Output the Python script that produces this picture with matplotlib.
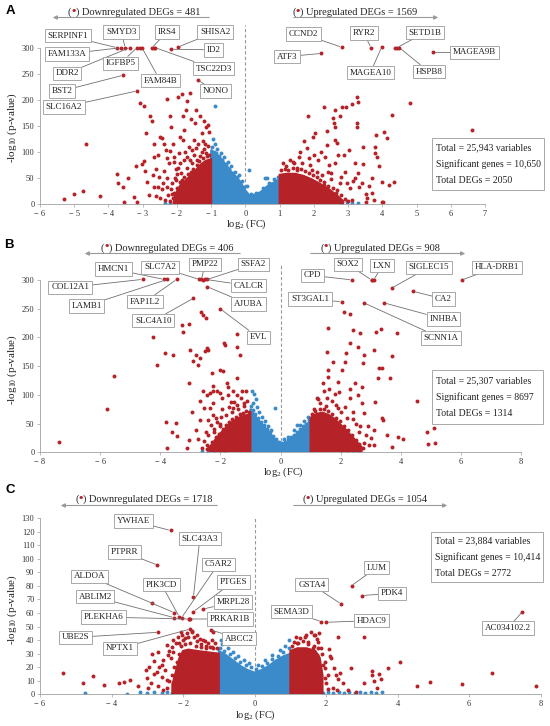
import matplotlib
matplotlib.use("Agg")
import matplotlib.pyplot as plt
from matplotlib.offsetbox import TextArea, HPacker, AnnotationBbox
from matplotlib.patches import FancyArrowPatch, Rectangle

plt.rcParams['font.family'] = ['Liberation Serif', 'DejaVu Serif']
plt.rcParams['mathtext.fontset'] = 'custom'
plt.rcParams['mathtext.rm'] = 'Liberation Serif'
plt.rcParams['mathtext.it'] = 'Liberation Serif:italic'

# ---------------- DATA ----------------
panel_letters = ["A", "B", "C"]
down_counts = [481, 406, 1718]
up_counts = [1569, 908, 1054]
total_vars = ["25,943", "25,307", "23,884"]
sig_genes = ["10,650", "8697", "10,414"]
total_degs = ["2050", "1314", "2772"]

A_xticks = [-6, -5, -4, -3, -2, -1, 0, 1, 2, 3, 4, 5, 6, 7]
A_yticks = [0, 50, 100, 150, 200, 250, 300]
B_xticks = [-8, -6, -4, -2, 0, 2, 4, 6, 8]
B_yticks = [0, 50, 100, 150, 200, 250, 300]
C_xticks = [-6, -4, -2, 0, 2, 4, 6, 8]
C_yticks = [0, 10, 20, 30, 40, 50, 60, 70, 80, 90, 100, 110, 120, 130]

# dense cores (envelopes of the packed point clouds)
A_blue_core_x = [-1.0, -1.0, -0.9, -0.8, -0.7, -0.6, -0.5, -0.4, -0.3, -0.2, -0.1, 0.0, 0.1, 0.2, 0.3, 0.4, 0.5, 0.6, 0.7, 0.8, 0.9, 1.0, 1.0]
A_blue_core_y = [0, 104, 98, 93, 86, 78, 70, 61, 54, 47, 37, 26, 18, 14, 15, 20, 26, 32, 36, 40, 44, 47, 0]
A_red_left_core_x = [-1.0, -1.0, -1.15, -1.3, -1.45, -1.6, -1.75, -1.9, -2.05, -2.1]
A_red_left_core_y = [0, 86, 83, 76, 65, 55, 45, 36, 18, 0]
A_red_right_core_x = [1.0, 1.0, 1.2, 1.45, 1.7, 1.95, 2.2, 2.45, 2.7, 2.85, 2.85]
A_red_right_core_y = [0, 56, 58, 58, 54, 47, 38, 28, 15, 6, 0]

B_blue_core_x = [-1.0, -1.0, -0.9, -0.8, -0.7, -0.6, -0.5, -0.4, -0.3, -0.2, -0.1, 0.0, 0.1, 0.2, 0.3, 0.4, 0.5, 0.6, 0.7, 0.8, 0.9, 1.0, 1.0]
B_blue_core_y = [0, 76, 68, 60, 54, 48, 42, 36, 30, 24, 19, 15, 14, 16, 20, 25, 30, 35, 40, 45, 50, 54, 0]
B_red_left_core_x = [-1.0, -1.0, -1.2, -1.4, -1.6, -1.8, -2.0, -2.2, -2.35, -2.35]
B_red_left_core_y = [0, 66, 64, 60, 53, 44, 33, 20, 9, 0]
B_red_right_core_x = [1.0, 1.0, 1.2, 1.4, 1.6, 1.8, 2.0, 2.2, 2.45, 2.7, 2.7]
B_red_right_core_y = [0, 60, 67, 69, 65, 58, 48, 38, 23, 9, 0]

C_blue_core_x = [-1.0, -1.0, -0.8, -0.6, -0.4, -0.2, 0.0, 0.2, 0.4, 0.6, 0.8, 1.0, 1.0]
C_blue_core_y = [0, 32, 29, 25, 21, 18, 16, 18, 21, 25, 28, 30, 0]
C_red_left_core_x = [-1.0, -1.0, -1.3, -1.6, -1.85, -2.0, -2.1, -2.2, -2.3, -2.3]
C_red_left_core_y = [0, 30, 31, 32, 33, 32, 27, 17, 7, 0]
C_red_right_core_x = [1.0, 1.0, 1.2, 1.45, 1.7, 1.82, 1.9, 1.9]
C_red_right_core_y = [0, 32, 34, 34, 32, 27, 14, 0]

# scattered points (x = log2 FC, y = -log10 p)
A_blue_pts = [(-0.88, 189), (-0.95, 125), (-0.9, 115), (-0.82, 105), (-0.72, 97), (-0.62, 90), (-0.52, 80),
              (-0.42, 72), (-0.3, 62), (-0.2, 55), (-0.1, 45), (0.05, 35), (0.12, 65), (0.58, 49), (0.62, 49),
              (0.3, 22), (0.5, 30), (0.7, 40), (0.85, 48), (0.95, 52), (-2.35, 2), (-2.2, 1), (-2.05, 3),
              (2.97, 3), (3.1, 1.5), (2.8, 1), (3.3, 1),
              (-0.98, 110), (-0.93, 100), (-0.85, 98), (-0.77, 92), (-0.67, 84), (-0.57, 76), (-0.47, 68),
              (-0.37, 60), (-0.25, 52), (-0.15, 42), (-0.05, 32), (0.15, 20), (0.25, 17), (0.4, 22), (0.55, 28),
              (0.65, 35), (0.75, 38), (0.88, 45), (0.98, 50)]
A_red_pts = [(-5.31, 9.6), (-5.0, 20), (-4.75, 24), (-4.67, 115), (-4.26, 16), (-3.76, 58), (-3.72, 41), (-3.58, 32),
             (-3.55, 3), (-3.43, 49), (-3.26, 13), (-3.21, 72), (-3.16, 3), (-3.07, 193), (-2.95, 188), (-3.02, 77),
             (-2.97, 83), (-2.92, 64), (-2.90, 137), (-2.87, 43), (-2.78, 168), (-2.73, 160), (-2.68, 115),
             (-2.66, 91), (-2.60, 68), (-2.56, 32), (-2.50, 129), (-2.44, 126), (-2.38, 115), (-2.33, 104),
             (-2.29, 201), (-2.21, 169), (-2.17, 148), (-2.11, 115), (-2.09, 91), (-2.04, 68), (-1.98, 206),
             (-1.90, 129), (-1.85, 212), (-1.83, 168), (-1.78, 142), (-1.73, 180), (-1.70, 198), (-1.62, 214),
             (-1.60, 164), (-1.48, 155), (-1.43, 180), (-1.38, 116), (-1.33, 169), (-1.28, 136), (-1.21, 160),
             (-1.14, 148), (-1.09, 152), (-1.06, 139), (-1.18, 116), (-1.83, 123), (-2.19, 102), (-2.23, 78),
             (-2.38, 64), (-2.53, 51), (-2.68, 33), (-2.82, 17), (-2.29, 33), (-2.14, 20), (-1.99, 8), (-2.48, 11),
             (-1.90, 33), (-2.04, 46), (-1.90, 78), (-1.70, 91), (-1.56, 104), (-1.43, 107), (-1.28, 100),
             (-1.65, 110), (-1.2, 105), (-1.1, 112), (-1.5, 95), (-1.75, 100), (-2.0, 58), (-2.15, 40), (-2.3, 50),
             (-2.45, 28), (-2.6, 15), (-1.95, 25), (-2.7, 55), (-3.09, 300), (-2.68, 300),
             (-1.05, 95), (-1.12, 92), (-1.25, 88), (-1.35, 82), (-1.42, 75), (-1.52, 68), (-1.6, 62), (-1.68, 58),
             (-1.78, 52), (-1.85, 47), (-1.92, 42), (-2.0, 30), (-2.08, 22), (-2.12, 12), (-2.2, 6), (-1.15, 98),
             (-1.32, 92), (-1.55, 78), (-1.72, 70), (-1.88, 60), (-2.05, 50), (-2.18, 28), (-2.25, 18), (-2.35, 8),
             (-1.4, 85), (-1.62, 85), (-1.8, 85), (-1.98, 70), (-2.1, 80), (-1.25, 120), (-1.5, 122), (-1.95, 98),
             (-2.3, 88), (-2.55, 95), (-2.4, 40),
             (1.83, 168), (2.29, 187), (2.61, 180), (2.83, 186), (2.95, 186), (3.12, 191), (3.25, 205), (3.29, 196),
             (2.76, 168), (2.55, 166), (2.58, 155), (2.63, 147), (2.37, 140), (2.03, 136), (1.97, 128), (2.37, 113),
             (2.63, 123), (2.68, 118), (3.27, 156), (3.26, 148), (3.43, 110), (3.82, 132), (4.05, 139), (4.14, 126),
             (4.29, 170), (4.82, 193), (6.61, 142), (1.80, 107), (1.56, 91), (1.41, 78), (1.61, 100), (2.12, 84),
             (2.34, 91), (2.61, 78), (2.88, 94), (3.02, 104), (3.21, 78), (3.43, 77), (3.80, 97), (3.78, 110),
             (3.85, 91), (3.71, 49), (3.90, 72), (4.0, 43), (4.19, 36), (4.34, 43), (3.21, 49), (2.97, 41),
             (3.31, 33), (3.51, 20), (3.75, 8), (3.98, 4), (4.02, 4), (3.12, 8), (2.83, 4), (3.51, 4), (2.68, 27),
             (2.49, 59), (2.29, 36), (2.78, 52), (1.3, 85), (1.5, 70), (1.9, 75), (2.1, 62), (2.2, 100), (2.45, 75),
             (1.7, 120), (2.0, 95), (2.9, 62), (3.05, 30), (3.3, 60), (2.7, 95), (3.6, 35), (1.2, 72), (4.38, 300),
             (1.05, 65), (1.15, 68), (1.25, 66), (1.38, 70), (1.5, 66), (1.62, 68), (1.75, 63), (1.85, 60),
             (1.98, 55), (2.08, 52), (2.18, 46), (2.3, 42), (2.42, 35), (2.55, 30), (2.65, 22), (2.78, 18),
             (2.9, 10), (3.0, 5), (1.1, 78), (1.4, 80), (1.65, 78), (1.95, 66), (2.25, 55), (2.5, 48), (2.75, 40),
             (1.85, 88), (2.4, 62), (3.15, 45), (3.4, 40), (3.55, 12), (3.7, 22)]

B_blue_pts = [(-0.95, 106), (-0.88, 101), (-0.82, 92), (-0.9, 85), (-0.78, 78), (-0.7, 70), (-0.6, 62), (-0.5, 55),
              (-0.4, 46), (-0.3, 38), (-0.18, 77), (0.54, 47), (0.45, 38), (0.65, 48), (0.78, 55), (0.9, 62),
              (0.1, 24), (0.25, 26), (-2.6, 2), (-2.4, 1), (-2.2, 3), (-2.0, 1.5), (-1.85, 2), (2.0, 2), (2.2, 1),
              (2.4, 2), (2.6, 1),
              (-0.98, 80), (-0.93, 74), (-0.85, 67), (-0.75, 60), (-0.65, 53), (-0.55, 47), (-0.45, 41),
              (-0.35, 35), (-0.25, 29), (-0.15, 23), (-0.05, 18), (0.05, 17), (0.15, 18), (0.25, 22), (0.35, 26),
              (0.45, 30), (0.55, 35), (0.65, 40), (0.75, 45), (0.85, 50), (0.95, 57)]
B_red_pts = [(-7.36, 18.6), (-5.78, 75), (-5.54, 132), (-4.25, 201), (-4.12, 152), (-3.84, 172), (-3.81, 52),
             (-3.77, 7), (-3.62, 35), (-3.59, 170), (-3.48, 51), (-3.45, 28), (-3.26, 222), (-3.24, 209), (-3.12, 7),
             (-3.03, 223), (-3.01, 178), (-3.03, 120), (-3.03, 21), (-2.96, 70), (-2.90, 159), (-2.81, 170),
             (-2.73, 152), (-2.68, 165), (-2.68, 89), (-2.66, 244), (-2.57, 239), (-2.51, 177), (-2.48, 233),
             (-2.46, 181), (-2.40, 178), (-2.73, 24), (-2.81, 39), (-2.68, 56), (-2.40, 56), (-2.29, 138),
             (-2.26, 116), (-2.23, 85), (-2.21, 36), (-2.01, 143), (-1.90, 141), (-1.88, 190), (-1.85, 187),
             (-1.79, 120), (-1.75, 100), (-1.73, 114), (-1.57, 77), (-1.46, 129), (-1.44, 206), (-1.44, 184),
             (-1.35, 170), (-2.10, 106), (-2.01, 103), (-1.96, 94), (-2.23, 106), (-2.34, 103), (-2.43, 100),
             (-2.57, 106), (-2.54, 77), (-2.34, 77), (-2.23, 65), (-2.48, 36), (-2.46, 13), (-2.29, 13), (-2.07, 19),
             (-2.01, 45), (-2.12, 53), (-1.99, 62), (-1.46, 100), (-1.66, 88), (-1.57, 106), (-1.29, 106),
             (-1.15, 106), (-1.2, 80), (-1.4, 75), (-1.6, 70), (-1.8, 65), (-2.0, 50), (-1.1, 90), (-1.3, 95),
             (-1.55, 88), (-2.2, 40), (-2.4, 30), (-2.57, 300),
             (-1.05, 70), (-1.15, 72), (-1.25, 68), (-1.35, 66), (-1.48, 62), (-1.6, 58), (-1.7, 52), (-1.82, 48),
             (-1.92, 40), (-2.05, 32), (-2.15, 26), (-2.28, 18), (-2.38, 10), (-2.45, 5), (-1.2, 85), (-1.45, 82),
             (-1.7, 78), (-1.95, 75), (-2.15, 60), (-2.3, 48), (-2.55, 20), (-2.6, 8),
             (2.12, 245), (2.31, 241), (1.59, 216), (2.42, 213), (2.64, 207), (3.17, 209), (3.33, 215), (3.89, 208),
             (2.31, 190), (2.59, 184), (1.54, 174), (2.17, 172), (2.79, 170), (3.12, 178), (3.72, 167), (1.76, 157),
             (2.15, 158), (2.76, 155), (3.26, 146), (3.37, 146), (3.23, 129), (3.64, 129), (1.59, 143), (2.03, 143),
             (1.57, 131), (1.90, 123), (2.48, 120), (2.72, 114), (1.46, 106), (1.81, 101), (2.31, 94), (2.59, 100),
             (3.14, 88), (4.53, 89), (1.92, 77), (2.42, 71), (2.79, 68), (3.37, 59), (3.42, 56), (3.12, 39),
             (3.53, 30), (3.92, 27), (4.09, 24), (3.70, 10), (5.09, 42), (4.86, 36), (4.92, 14), (5.14, 17),
             (3.12, 13), (2.79, 16), (2.42, 24), (2.1, 18), (1.3, 85), (1.5, 80), (1.7, 90), (2.0, 70), (2.2, 60),
             (2.5, 50), (2.6, 35), (2.3, 110), (1.4, 120), (1.2, 95), (2.9, 45), (3.0, 25), (2.7, 85), (1.1, 75),
             (3.06, 300),
             (1.05, 66), (1.15, 72), (1.3, 76), (1.45, 75), (1.58, 72), (1.7, 66), (1.85, 60), (1.98, 54),
             (2.1, 46), (2.25, 38), (2.38, 30), (2.52, 22), (2.62, 14), (2.75, 8), (1.25, 92), (1.55, 95),
             (1.85, 82), (2.15, 78), (2.4, 58), (2.65, 45), (2.85, 30), (2.95, 12), (1.6, 110), (1.95, 105)]

C_blue_pts = [(-0.95, 40), (-0.9, 37), (-0.75, 34), (-0.6, 31), (-0.45, 28), (-0.3, 25), (-0.15, 23), (0.1, 22),
              (0.3, 25), (0.5, 29), (0.7, 33), (0.85, 36), (0.95, 40), (-4.75, 1), (-3.58, 0.5), (-3.2, 1.5),
              (-3.0, 1), (-2.8, 2), (-2.6, 1), (-2.45, 1.5), (-2.3, 1), (-2.15, 2), (-2.0, 1), (-1.9, 2), (1.9, 1),
              (2.05, 2), (2.2, 1), (2.35, 1.5), (2.5, 1), (2.65, 2), (2.8, 1), (2.95, 1.5), (3.1, 1), (3.25, 2),
              (3.4, 1), (3.55, 1.5),
              (-0.98, 34), (-0.85, 32), (-0.7, 30), (-0.55, 27), (-0.4, 24), (-0.25, 22), (-0.1, 20), (0.05, 19),
              (0.2, 21), (0.35, 23), (0.5, 26), (0.65, 28), (0.8, 31), (0.97, 34)]
C_red_pts = [(-5.35, 15.5), (-4.79, 8.6), (-4.53, 13.5), (-4.21, 6.9), (-3.78, 8.1), (-3.64, 9.3), (-3.48, 10.6),
             (-3.25, 6.1), (-2.97, 4.9), (-2.88, 29.8), (-2.86, 67.4), (-2.04, 43.8), (-1.95, 41.4), (-2.10, 37.6),
             (-2.27, 31.5), (-2.41, 29), (-2.55, 25.3), (-2.66, 20.4), (-2.74, 16.7), (-2.60, 13), (-2.46, 10.6),
             (-2.27, 8.1), (-2.09, 5.6), (-1.90, 4.4), (-2.69, 31.5), (-2.81, 24.6), (-2.94, 20.4), (-3.04, 18),
             (-2.46, 36.4), (-2.27, 40), (-1.76, 46), (-1.62, 44), (-1.53, 41), (-1.39, 39), (-1.29, 37.6),
             (-1.24, 35), (-1.15, 34), (-1.15, 46.3), (-2.2, 38), (-2.0, 40), (-1.9, 45), (-1.7, 42), (-1.6, 39),
             (-1.5, 37), (-1.35, 36), (-2.3, 35), (-2.4, 32), (-1.75, 47), (-2.05, 46), (-1.2, 40), (-2.6, 22),
             (-2.8, 15), (-3.0, 12), (-2.9, 8), (-2.7, 6), (-1.84, 55.6),
             (-1.05, 34), (-1.2, 35), (-1.35, 34), (-1.5, 35), (-1.65, 36), (-1.8, 38), (-1.95, 37), (-2.05, 36),
             (-2.12, 30), (-2.18, 24), (-2.25, 20), (-2.32, 14), (-2.38, 10), (-2.45, 5), (-1.1, 38), (-1.45, 40),
             (-1.85, 42), (-2.15, 42), (-2.35, 27), (-2.5, 18), (-2.55, 3),
             (2.34, 42.5), (3.06, 42.5), (1.41, 42), (1.67, 43.8), (1.74, 40.9), (2.08, 33.4), (2.15, 26.6),
             (2.23, 19.2), (2.27, 14.3), (2.34, 11.3), (2.48, 8.1), (2.69, 19.2), (2.84, 1.9), (3.07, 8.1),
             (3.27, 17.2), (3.29, 14.3), (3.35, 9.8), (3.49, 14.7), (3.53, 11.3), (3.41, 4.9), (3.74, 19.7),
             (4.07, 24.1), (4.53, 6.4), (4.90, 8.8), (5.79, 7.6), (6.65, 15.5), (7.86, 6.4), (1.11, 38.9),
             (1.97, 19.2), (2.04, 14.3), (1.18, 37.6), (1.50, 38.9), (1.64, 34), (1.36, 30.3), (1.69, 43.8),
             (1.74, 29), (1.87, 34), (1.97, 24), (1.78, 38.9), (1.27, 41.4), (1.59, 46.3), (2.6, 3), (2.2, 5), (2.0, 8),
             (1.05, 36), (1.2, 38), (1.35, 39), (1.5, 37), (1.65, 36), (1.78, 34), (1.88, 30), (1.92, 22),
             (1.98, 12), (2.05, 4), (1.15, 42), (1.45, 44), (1.8, 45), (2.1, 28), (2.3, 3), (2.4, 16)]

# labelled genes: name, log2FC, -log10 p
A_genes = ["SERPINF1", "FAM133A", "SMYD3", "DDR2", "IGFBP5", "FAM84B", "IRS4", "TSC22D3", "ID2", "SHISA2",
           "NONO", "BST2", "SLC16A2", "CCND2", "ATF3", "RYR2", "MAGEA10", "SETD1B", "HSPB8", "MAGEA9B"]
A_gene_fc = [-3.75, -3.64, -3.51, -3.38, -3.17, -3.02, -2.73, -2.63, -2.17, -1.98,
             -1.39, -3.58, -3.17, 2.81, 2.22, 3.67, 3.98, 4.43, 4.50, 5.48]
A_gene_p = [300, 300, 300, 300, 300, 300, 300, 300, 297, 301, 238, 247, 217, 301, 289, 300, 301, 300, 300, 291]

B_genes = ["COL12A1", "HMCN1", "LAMB1", "FAP1L2", "SLC7A2", "PMP22", "CALCR", "SSFA2", "AJUBA", "SLC4A10", "EVL",
           "CPD", "SOX2", "LXN", "SIGLEC15", "HLA-DRB1", "CA2", "ST3GAL1", "INHBA", "SCNN1A"]
B_gene_fc = [-4.59, -3.88, -3.76, -3.45, -2.70, -2.63, -2.50, -2.43, -2.43, -2.90, -2.01,
             2.37, 3.03, 3.10, 3.70, 6.03, 4.42, 2.03, 3.45, 2.78]
B_gene_p = [301, 301, 301, 301, 301, 301, 301, 301, 288, 268, 250, 300, 300, 300, 286, 300, 280, 262, 260, 260]

C_genes = ["YWHAE", "PTPRR", "SLC43A3", "C5AR2", "ALDOA", "PIK3CD", "PTGES", "ABLIM2", "MRPL28", "PLEKHA6",
           "PRKAR1B", "UBE2S", "NPTX1", "ABCC2", "LUM", "GSTA4", "PDK4", "SEMA3D", "HDAC9", "AC034102.2"]
C_gene_fc = [-2.35, -2.72, -1.71, -2.04, -2.25, -2.11, -1.71, -2.25, -1.43, -1.84,
             -1.80, -2.69, -1.80, -1.22, 2.71, 2.42, 3.01, 1.87, 2.01, 7.49]
C_gene_p = [121, 95.5, 72.1, 56.6, 60.3, 57.4, 61, 56.6, 63, 55.6, 55.6, 45.8, 48.2, 47.5, 80.2, 66.7, 72.9, 53.6,
            53.2, 61]

# ---------------- LAYOUT (label box centres in data units) ----------------
A_lab_pos = [(-5.19, 323), (-5.21, 288), (-3.63, 330), (-5.21, 251), (-3.65, 270), (-2.49, 237), (-2.29, 330),
             (-0.93, 260), (-0.93, 296), (-0.88, 330), (-0.88, 217), (-5.36, 217), (-5.31, 186), (1.70, 326),
             (1.22, 283), (3.46, 328), (3.65, 252), (5.24, 329), (5.36, 254), (6.70, 291)]
B_lab_pos = [(-7.0, 287), (-5.56, 319), (-6.45, 255), (-4.51, 262), (-4.01, 322), (-2.51, 327), (-1.07, 290),
             (-0.90, 327), (-1.07, 258), (-4.23, 229), (-0.74, 200), (1.06, 308), (2.24, 327), (3.39, 325),
             (4.94, 322), (7.19, 322), (5.42, 267), (0.98, 267), (5.42, 232), (5.33, 199)]
C_lab_pos = [(-3.39, 128), (-3.65, 105), (-1.53, 115), (-1.02, 96), (-4.62, 87), (-2.60, 81), (-0.60, 83),
             (-4.46, 72), (-0.60, 68), (-4.23, 57), (-0.69, 55.6), (-5.02, 42), (-3.76, 34), (-0.43, 41),
             (3.41, 93.5), (1.60, 81), (3.85, 74.6), (1.04, 61), (3.27, 54.4), (7.08, 49)]

RED = '#B52227'
BLUE = '#3B8BCB'
GREY = '#999999'
W, H = 550, 726

fig = plt.figure(figsize=(W / 100, H / 100), dpi=100)


def fx(px):
    return px / W


def fy(py):
    return 1 - py / H


def tick_lab(v):
    return ("\u2212 %d" % abs(v)) if v < 0 else "%d" % v


panels = [
    dict(box=(40, 485, 204, 25), xlim=(-6, 7), ylim=(0, 343.6), xt=A_xticks, yt=A_yticks,
         blue_core=(A_blue_core_x, A_blue_core_y),
         red_cores=[(A_red_left_core_x, A_red_left_core_y), (A_red_right_core_x, A_red_right_core_y)],
         blue=A_blue_pts, red=A_red_pts, genes=(A_genes, A_gene_fc, A_gene_p), labpos=A_lab_pos,
         letter=(10, 10.5), head_y=11.5, arr_y=17.5, down=(134, 212, 50), up=(355, 291, 441),
         stats=(432, 544, 138, 190), xlab=(246, 224), ylab=(12, 128)),
    dict(box=(40, 521, 452.3, 265), xlim=(-8, 8), ylim=(0, 326), xt=B_xticks, yt=B_yticks,
         blue_core=(B_blue_core_x, B_blue_core_y),
         red_cores=[(B_red_left_core_x, B_red_left_core_y), (B_red_right_core_x, B_red_right_core_y)],
         blue=B_blue_pts, red=B_red_pts, genes=(B_genes, B_gene_fc, B_gene_p), labpos=B_lab_pos,
         letter=(9, 245), head_y=247.5, arr_y=253.5, down=(167, 243, 82), up=(380, 308, 468),
         stats=(432, 543, 370, 424), xlab=(283, 472), ylab=(12, 370)),
    dict(box=(40, 540.7, 694.3, 517.7), xlim=(-6, 8), ylim=(0, 130.4), xt=C_xticks, yt=C_yticks,
         blue_core=(C_blue_core_x, C_blue_core_y),
         red_cores=[(C_red_left_core_x, C_red_left_core_y), (C_red_right_core_x, C_red_right_core_y)],
         blue=C_blue_pts, red=C_red_pts, genes=(C_genes, C_gene_fc, C_gene_p), labpos=C_lab_pos,
         letter=(10, 490), head_y=499, arr_y=505.5, down=(144, 220, 58), up=(365, 291, 450),
         stats=(431, 543, 532, 582), xlab=(255, 715), ylab=(12, 610)),
]


def header(cx, cy, text):
    tp = dict(fontsize=7.5, color='#222222', family='Liberation Serif')
    parts = [TextArea("(", textprops=tp),
             TextArea("\u2022", textprops=dict(fontsize=9, color=RED, family='Liberation Serif', weight='bold')),
             TextArea(") " + text, textprops=tp)]
    box = HPacker(children=parts, align="baseline", pad=0, sep=0)
    ab = AnnotationBbox(box, (fx(cx), fy(cy)), xycoords='figure fraction', frameon=False,
                        box_alignment=(0.5, 0.5), pad=0)
    fig.add_artist(ab)


def harrow(x0, x1, y):
    fig.add_artist(FancyArrowPatch((fx(x0), fy(y)), (fx(x1), fy(y)), transform=fig.transFigure,
                                   arrowstyle='-|>', mutation_scale=6, color=GREY, lw=0.8))


for i, p in enumerate(panels):
    l, r, b, t = p['box']
    ax = fig.add_axes([fx(l), fy(b), (r - l) / W, (b - t) / H])
    ax.set_xlim(*p['xlim'])
    ax.set_ylim(*p['ylim'])
    ax.patch.set_alpha(0)
    for s in ['top', 'right']:
        ax.spines[s].set_visible(False)
    for s in ['left', 'bottom']:
        ax.spines[s].set_color('#a0a0a0')
        ax.spines[s].set_linewidth(0.6)
    ax.spines['left'].set_bounds(0, p['yt'][-1])
    ax.set_xticks(p['xt'])
    ax.set_xticklabels([tick_lab(v) for v in p['xt']])
    ax.set_yticks(p['yt'])
    ax.set_yticklabels([tick_lab(v) for v in p['yt']])
    ax.tick_params(axis='both', labelsize=6, length=2.5, width=0.5, color='#a0a0a0', labelcolor='#333333', pad=1.5)

    ax.axvline(0, color=GREY, ls=(0, (3, 2)), lw=0.8, zorder=0.5)

    bx, by = p['blue_core']
    ax.fill(bx, by, color=BLUE, lw=1.5, ec=BLUE, zorder=1)
    xs, ys = zip(*p['blue'])
    ax.scatter(xs, ys, s=8, color=BLUE, lw=0, zorder=1.5)
    for cx_, cy_ in p['red_cores']:
        ax.fill(cx_, cy_, color=RED, lw=1.5, ec=RED, zorder=2)
    xs, ys = zip(*p['red'])
    ax.scatter(xs, ys, s=8, color=RED, lw=0, zorder=2.5)

    names, gfc, gp = p['genes']
    ax.scatter(gfc, gp, s=8, color=RED, lw=0, zorder=2.5)
    for name, gx, gy, (lx, ly) in zip(names, gfc, gp, p['labpos']):
        ax.annotate(name, xy=(gx, gy), xytext=(lx, ly), textcoords='data', ha='center', va='center',
                    fontsize=6.5, color='#222222',
                    bbox=dict(boxstyle='square,pad=0.3', fc='white', ec='#9a9a9a', lw=0.6),
                    arrowprops=dict(arrowstyle='-', color='#707070', lw=0.6, shrinkA=0, shrinkB=1.5),
                    annotation_clip=False, zorder=5)

    header(p['down'][0], p['head_y'], "Downregulated DEGs = %d" % down_counts[i])
    harrow(p['down'][1], p['down'][2], p['arr_y'])
    header(p['up'][0], p['head_y'], "Upregulated DEGs = %d" % up_counts[i])
    harrow(p['up'][1], p['up'][2], p['arr_y'])

    sl, sr, st, sb = p['stats']
    fig.add_artist(Rectangle((fx(sl), fy(sb)), (sr - sl) / W, (sb - st) / H, transform=fig.transFigure,
                             fc='white', ec='#9a9a9a', lw=0.6, zorder=10))
    cyc = (st + sb) / 2
    lines = ["Total = %s variables" % total_vars[i],
             "Significant genes = %s" % sig_genes[i],
             "Total DEGs = %s" % total_degs[i]]
    for k, line in enumerate(lines):
        fig.text(fx(sl + 4), fy(cyc + (k - 1) * 16.3), line, ha='left', va='center', fontsize=7,
                 color='#222222', zorder=11)

    fig.text(fx(p['xlab'][0]), fy(p['xlab'][1]), r"log$_2$ (FC)", ha='center', va='center', fontsize=7.5,
             color='#222222')
    fig.text(fx(p['ylab'][0]), fy(p['ylab'][1]), r"-log$_{10}$ (p-value)", ha='center', va='center',
             rotation=90, fontsize=8, color='#222222')
    fig.text(fx(p['letter'][0]), fy(p['letter'][1]), panel_letters[i], ha='center', va='center',
             fontsize=9.5, weight='bold', family='Liberation Sans')

fig.savefig("out.png", dpi=100)
